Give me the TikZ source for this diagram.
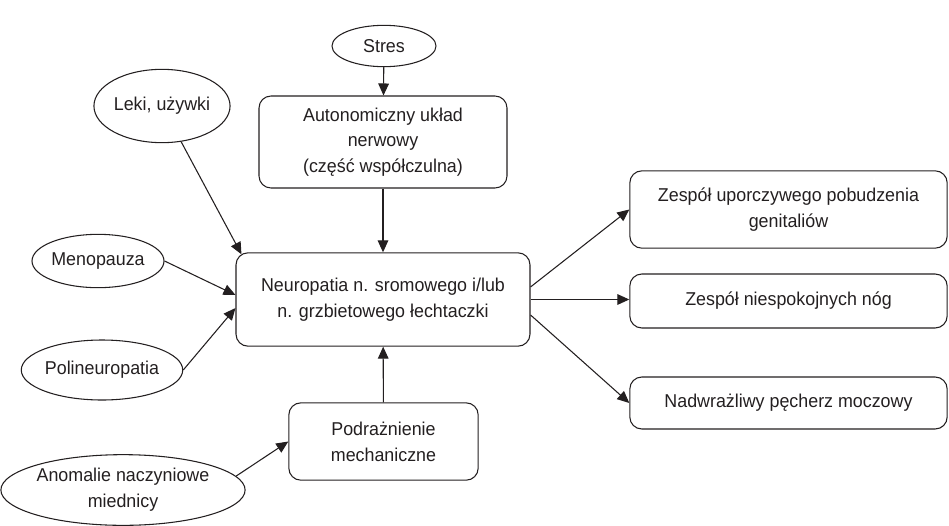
\documentclass[tikz,border=0pt]{standalone}
\usepackage{fontspec}
\setmainfont[FakeStretch=0.96]{Liberation Sans}
\usetikzlibrary{shapes.geometric,arrows.meta,calc}
\definecolor{ink}{HTML}{231F20}
\begin{document}
\begin{tikzpicture}[x=0.75pt,y=-0.75pt,
  every node/.style={font=\fontsize{13.95pt}{19.3pt}\selectfont, text=ink, align=center, inner sep=0pt},
  oval/.style={ellipse, draw=ink, line width=0.8pt},
  rbox/.style={rectangle, rounded corners=9pt, draw=ink, line width=0.8pt},
  arr/.style={draw=ink, line width=0.8pt, -{Triangle[length=9pt,width=8pt]}}]
\path[use as bounding box] (0,0) rectangle (949,525);

\node[oval, minimum width=78pt, minimum height=31pt] (stres) at (384,46) {Stres};
\node[rbox, minimum width=186pt, minimum height=69pt] (auto) at (383,142) {Autonomiczny układ\\nerwowy\\(część współczulna)};
\node[oval, minimum width=91pt, minimum height=55pt] (leki) at (162,106) {Leki, używki};
\node[oval, minimum width=99pt, minimum height=40pt] (meno) at (98,261) {Menopauza};
\node[oval, minimum width=119pt, minimum height=45pt] (poli) at (102,370) {Polineuropatia};
\node[rbox, minimum width=220.5pt, minimum height=70pt] (neu) at (383,299.5) {Neuropatia n. sromowego i/lub\\n. grzbietowego łechtaczki};
\node[rbox, minimum width=142pt, minimum height=58pt] (podr) at (383.5,441.5) {Podrażnienie\\mechaniczne};
\node[oval, minimum width=172pt, minimum height=53pt] (anom) at (123,490) {Anomalie naczyniowe\\miednicy};
\node[rbox, minimum width=238pt, minimum height=58pt] (z1) at (788.5,209.5) {Zespół uporczywego pobudzenia\\genitaliów};
\node[rbox, minimum width=238pt, minimum height=40.5pt] (z2) at (788.5,301) {Zespół niespokojnych nóg};
\node[rbox, minimum width=238pt, minimum height=39pt] (z3) at (788.5,403) {Nadwrażliwy pęcherz moczowy};

\coordinate (lekiEnd) at ([xshift=4.5pt,yshift=-1.5pt]neu.north west);
\coordinate (menoEnd) at ([yshift=3.4pt]neu.west);
\coordinate (poliEnd) at ([yshift=-6.4pt]neu.west);
\coordinate (outA) at ([yshift=9.4pt]neu.east);
\coordinate (outC) at ([yshift=-11.6pt]neu.east);

\draw[arr] (stres) -- (auto);
\draw[arr] (auto) -- (neu);
\draw[arr] (leki) -- (lekiEnd);
\draw[arr] (meno.east) -- (menoEnd);
\draw[arr] (poli.east) -- (poliEnd);
\draw[arr] (podr) -- (neu);
\draw[arr] (anom.7) -- (podr.west);
\draw[arr] (outA) -- (z1.west);
\draw[arr] (neu.east) -- (neu.east -| z2.west);
\draw[arr] (outC) -- (z3.west);
\end{tikzpicture}
\end{document}
